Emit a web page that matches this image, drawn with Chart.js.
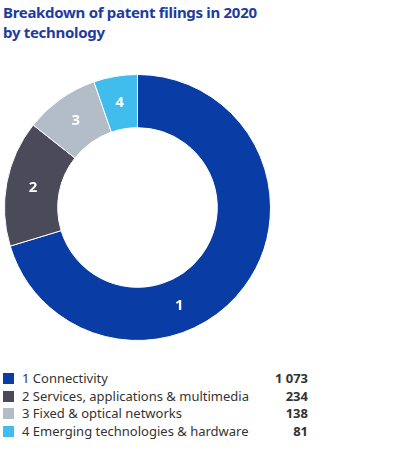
<!DOCTYPE html>
<html>
<head>
<meta charset="utf-8">
<script src="https://cdn.jsdelivr.net/npm/chart.js@4.4.0/dist/chart.umd.min.js"></script>
<style>
  body { margin: 0; background: #fff; font-family: "Noto Sans", sans-serif; }
  #wrap { position: relative; width: 397px; height: 454px; }
  h1 { position: absolute; left: 3px; top: 2px; margin: 0; font-size: 15px; line-height: 20px; font-weight: 700; color: #1e3c9e; letter-spacing: -0.3px; }
  #donut { position: absolute; left: 4px; top: 74px; }
  #legend { position: absolute; left: 3px; top: 370px; width: 305px; border-collapse: collapse; font-size: 13px; color: #333; }
  #legend td { padding: 0; height: 17.5px; line-height: 17.5px; white-space: nowrap; }
  #legend .sw { display: inline-block; width: 11px; height: 11px; vertical-align: -1px; margin-right: 8px; }
  #legend .val { text-align: right; font-weight: 700; }
</style>
</head>
<body>
<div id="wrap">
  <h1>Breakdown of patent filings in 2020<br>by technology</h1>
  <canvas id="donut" width="267" height="267"></canvas>
  <table id="legend"></table>
</div>
<script>
const categories = ['Connectivity', 'Services, applications & multimedia', 'Fixed & optical networks', 'Emerging technologies & hardware'];
const sliceLabels = ['1', '2', '3', '4'];
const filings = [1073, 234, 138, 81];
const valueLabels = ['1 073', '234', '138', '81'];
const colors = ['#0a3ca6', '#4a4a58', '#b3bdc8', '#40bdec'];

// legend
const legend = document.getElementById('legend');
categories.forEach((name, i) => {
  const tr = document.createElement('tr');
  tr.innerHTML = '<td><span class="sw" style="background:' + colors[i] + '"></span>' +
    sliceLabels[i] + ' ' + name.replace(/&/g, '&amp;') + '</td><td class="val">' + valueLabels[i] + '</td>';
  legend.appendChild(tr);
});

// number inside each slice
const sliceNumbers = {
  id: 'sliceNumbers',
  afterDatasetsDraw(chart, args, opts) {
    const ctx = chart.ctx;
    const arcs = chart.getDatasetMeta(0).data;
    ctx.save();
    ctx.fillStyle = '#fff';
    ctx.font = 'bold 15px "Noto Sans", sans-serif';
    ctx.textAlign = 'center';
    ctx.textBaseline = 'middle';
    arcs.forEach((arc, i) => {
      const p = arc.getProps(['x', 'y', 'startAngle', 'endAngle', 'innerRadius', 'outerRadius'], true);
      const f = opts.fraction[i];
      const a = p.startAngle + (p.endAngle - p.startAngle) * f;
      const r = (p.innerRadius + p.outerRadius) / 2;
      ctx.fillText(sliceLabels[i], p.x + Math.cos(a) * r, p.y + Math.sin(a) * r);
    });
    ctx.restore();
  }
};

new Chart(document.getElementById('donut'), {
  type: 'doughnut',
  data: {
    labels: categories,
    datasets: [{
      data: filings,
      backgroundColor: colors,
      borderColor: '#fff',
      borderWidth: 1,
    }],
  },
  options: {
    responsive: false,
    animation: false,
    cutout: '60%',
    layout: { padding: 0 },
    plugins: {
      legend: { display: false },
      tooltip: { enabled: false },
      sliceNumbers: { fraction: [0.62, 0.5, 0.5, 0.5] },
    },
  },
  plugins: [sliceNumbers],
});
</script>
</body>
</html>
